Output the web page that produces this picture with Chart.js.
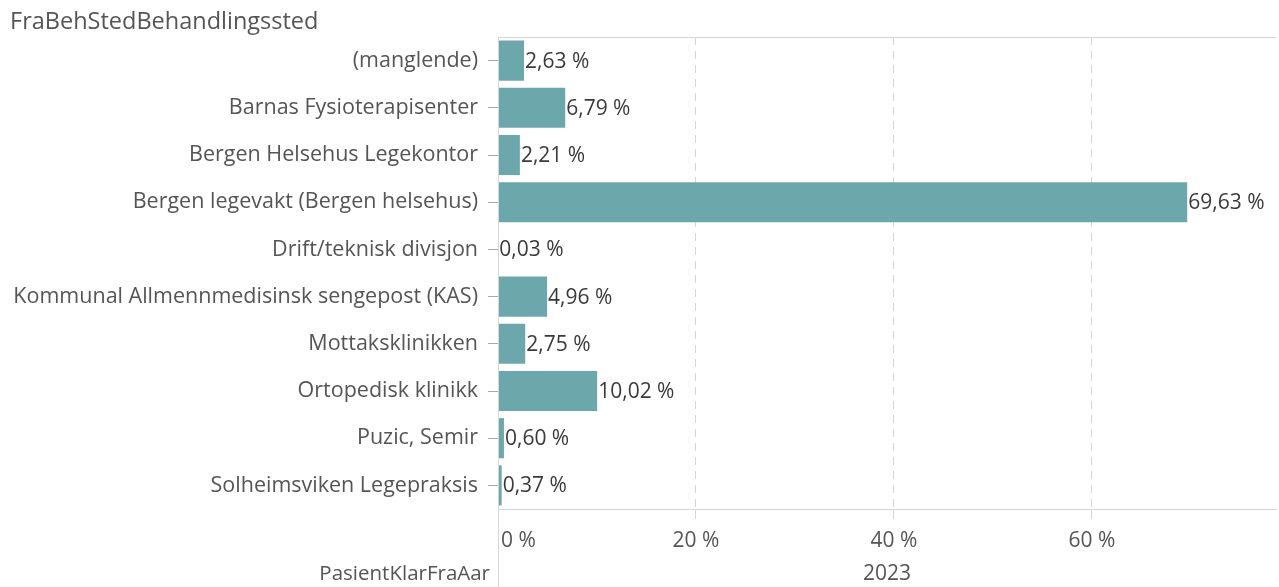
<!DOCTYPE html>
<html>
<head>
<meta charset="utf-8">
<script src="https://cdn.jsdelivr.net/npm/chart.js@4"></script>
<style>
  body { margin: 0; background: #fff; }
  #wrap { width: 1279px; height: 587px; position: relative; }
</style>
</head>
<body>
<div id="wrap"><canvas id="chart"></canvas></div>
<script>
// data
const categories = [
  '(manglende)',
  'Barnas Fysioterapisenter',
  'Bergen Helsehus Legekontor',
  'Bergen legevakt (Bergen helsehus)',
  'Drift/teknisk divisjon',
  'Kommunal Allmennmedisinsk sengepost (KAS)',
  'Mottaksklinikken',
  'Ortopedisk klinikk',
  'Puzic, Semir',
  'Solheimsviken Legepraksis'
];
const shares = [2.63, 6.79, 2.21, 69.63, 0.03, 4.96, 2.75, 10.02, 0.60, 0.37];
const xTicks = [0, 20, 40, 60];
const yearLabel = '2023';
const rowTitle = 'FraBehStedBehandlingssted';
const colTitle = 'PasientKlarFraAar';

const FONT = '"Open Sans", "Segoe UI", sans-serif';
const TEXT = '#555';
const LINE = '#d6d6d6';

const fmt = v => v.toFixed(2).replace('.', ',') + ' %';

const extras = {
  id: 'extras',
  afterDraw(chart) {
    const {ctx, chartArea: a, scales: {x}} = chart;
    ctx.save();
    // top border + y axis line running to the bottom
    ctx.strokeStyle = LINE;
    ctx.lineWidth = 1;
    ctx.beginPath();
    ctx.moveTo(a.left, a.top + 0.5);
    ctx.lineTo(a.right, a.top + 0.5);
    ctx.moveTo(a.left + 0.5, a.top);
    ctx.lineTo(a.left + 0.5, chart.height);
    ctx.stroke();

    // value labels
    ctx.fillStyle = '#3a3a3a';
    ctx.font = '21px ' + FONT;
    ctx.textBaseline = 'middle';
    ctx.textAlign = 'left';
    chart.getDatasetMeta(0).data.forEach((bar, i) => {
      ctx.fillText(fmt(shares[i]), bar.x + 1, bar.y + 1);
    });

    // x tick labels (first one sits inside the axis)
    ctx.fillStyle = TEXT;
    ctx.font = '21px ' + FONT;
    xTicks.forEach(v => {
      const px = x.getPixelForValue(v);
      if (v === 0) { ctx.textAlign = 'left'; ctx.fillText(v + ' %', px + 3, 541); }
      else { ctx.textAlign = 'center'; ctx.fillText(v + ' %', px, 541); }
    });

    // titles
    ctx.font = '23.5px ' + FONT;
    ctx.textAlign = 'left';
    ctx.fillText(rowTitle, 10, 22);
    ctx.font = '20.5px ' + FONT;
    ctx.textAlign = 'right';
    ctx.fillText(colTitle, a.left - 8, 574);
    ctx.font = '21px ' + FONT;
    ctx.textAlign = 'center';
    ctx.fillText(yearLabel, (a.left + a.right) / 2, 574);
    ctx.restore();
  }
};

new Chart(document.getElementById('chart'), {
  type: 'bar',
  data: {
    labels: categories,
    datasets: [{
      data: shares,
      backgroundColor: '#6ca7ab',
      borderWidth: 0,
      barPercentage: 0.85,
      categoryPercentage: 1
    }]
  },
  options: {
    indexAxis: 'y',
    responsive: true,
    maintainAspectRatio: false,
    animation: false,
    layout: { padding: { top: 37, right: 3, left: 0, bottom: 0 } },
    plugins: { legend: { display: false }, tooltip: { enabled: false } },
    scales: {
      x: {
        min: 0,
        max: 78.6,
        afterBuildTicks: s => { s.ticks = xTicks.map(v => ({ value: v })); },
        afterFit: s => { s.height = 78; },
        ticks: { display: false },
        grid: {
          color: LINE,
          tickColor: LINE,
          tickLength: 10
        },
        border: { display: true, color: LINE, dash: [8, 6] }
      },
      y: {
        afterFit: s => { s.width = 498; },
        ticks: { color: TEXT, font: { family: FONT, size: 21.5 }, padding: 10 },
        grid: { offset: false, drawOnChartArea: false, tickColor: '#aaa', tickLength: 10 },
        border: { display: true, color: LINE }
      }
    }
  },
  plugins: [extras]
});
</script>
</body>
</html>
